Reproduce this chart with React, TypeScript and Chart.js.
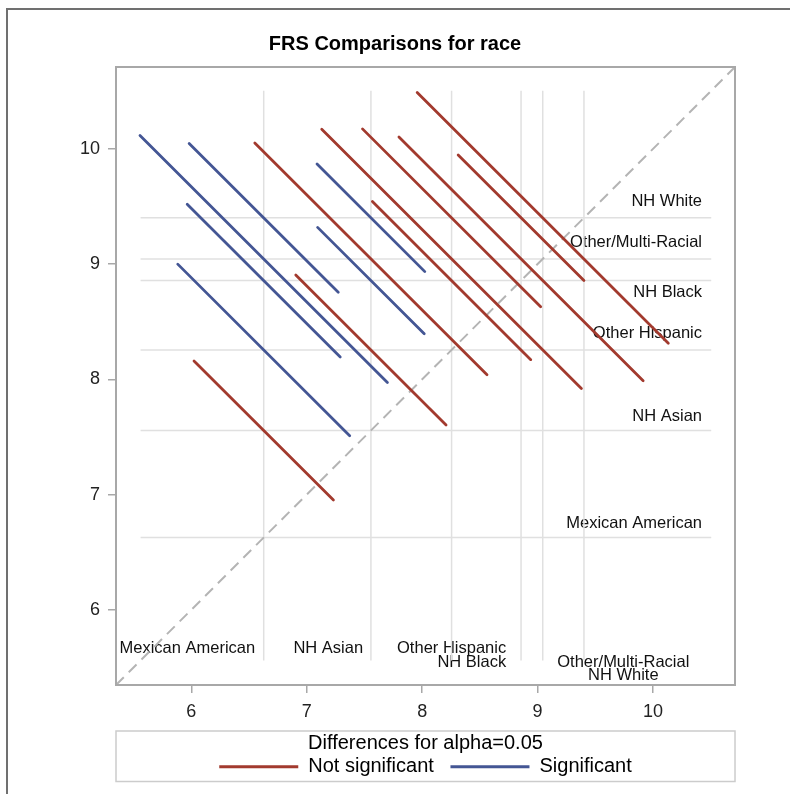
import React, { useEffect, useRef } from "react";
import { Chart, registerables } from "chart.js";

Chart.register(...registerables);

// ---------- data ----------
const chartTitle = "FRS Comparisons for race";
const legendTitle = "Differences for alpha=0.05";
const legendNames = ["Not significant", "Significant"];

const groups = ["Mexican American", "NH Asian", "Other Hispanic", "NH Black", "Other/Multi-Racial", "NH White"];
const groupMeans = [6.627, 7.556, 8.255, 8.857, 9.045, 9.402];

// pairwise difference segments
const segX1 = [5.555, 5.981, 5.964, 5.882, 7.089, 7.094, 6.023, 6.550, 6.905, 7.130, 7.483, 7.799, 7.569, 7.957, 8.312];
const segY1 = [10.117, 10.048, 9.520, 9.000, 9.869, 9.319, 8.160, 10.051, 8.906, 10.170, 10.174, 10.103, 9.543, 10.490, 9.947];
const segX2 = [7.699, 7.273, 7.290, 7.372, 8.023, 8.018, 7.231, 8.562, 8.207, 9.380, 9.027, 9.915, 8.941, 10.133, 9.402];
const segY2 = [7.973, 8.756, 8.194, 7.510, 8.935, 8.395, 6.952, 8.039, 7.604, 7.920, 8.630, 7.987, 8.171, 8.314, 8.857];
const segSignificant = [true, true, true, true, true, true, false, false, false, false, false, false, false, false, false];

const xTickValues = [6, 7, 8, 9, 10];
const yTickValues = [6, 7, 8, 9, 10];

const axisMin = 5.347;
const axisMax = 10.711;
const refMin = 5.56;
const refMax = 10.505;

// label placement (data units)
const bottomLabelX = [6.553, 7.488, 8.728, 8.728, 9.743, 9.743];
const bottomLabelY = [5.66, 5.66, 5.66, 5.547, 5.547, 5.431];
const bottomLabelAlign = ["right", "right", "right", "right", "center", "center"];
const rightLabelX = 10.425;
const rightLabelY = [6.753, 7.679, 8.397, 8.75, 9.184, 9.54];

// ---------- styles ----------
const FONT = "'Liberation Sans', Arial, Helvetica, sans-serif";
const RED = "#A23A2E";
const BLUE = "#445694";
const FRAME = "#a8a8a8";
const REF = "#e0e0e0";

const decorPlugin = {
  id: "decor",
  beforeDatasetsDraw(chart: any) {
    const ctx = chart.ctx;
    const xs = chart.scales.x;
    const ys = chart.scales.y;
    ctx.save();
    ctx.fillStyle = "#111";
    ctx.font = `16.5px ${FONT}`;
    ctx.textBaseline = "middle";
    groups.forEach((g, i) => {
      ctx.textAlign = bottomLabelAlign[i];
      ctx.fillText(g, xs.getPixelForValue(bottomLabelX[i]), ys.getPixelForValue(bottomLabelY[i]));
    });
    ctx.textAlign = "right";
    groups.forEach((g, i) => {
      ctx.fillText(g, xs.getPixelForValue(rightLabelX), ys.getPixelForValue(rightLabelY[i]));
    });
    ctx.restore();
  },
  afterDraw(chart: any) {
    const ctx = chart.ctx;
    const a = chart.chartArea;
    ctx.save();
    // plot frame
    ctx.strokeStyle = FRAME;
    ctx.lineWidth = 2;
    ctx.strokeRect(a.left, a.top, a.right - a.left, a.bottom - a.top);
    // legend frame
    const lg = chart.legend;
    ctx.strokeStyle = "#cccccc";
    ctx.lineWidth = 1.5;
    ctx.strokeRect(a.left, lg.top - 2.3, a.right - a.left, 50.5);
    // outer image frame
    ctx.strokeStyle = "#707070";
    ctx.lineWidth = 2;
    ctx.beginPath();
    ctx.moveTo(7, chart.height);
    ctx.lineTo(7, 9);
    ctx.lineTo(chart.width, 9);
    ctx.stroke();
    ctx.restore();
  },
};

export default function App() {
  const ref = useRef<HTMLCanvasElement | null>(null);

  useEffect(() => {
    const canvas = ref.current;
    if (!canvas) return;
    const datasets: any[] = [];
    for (let i = 0; i < segX1.length; i++) {
      datasets.push({
        data: [
          { x: segX1[i], y: segY1[i] },
          { x: segX2[i], y: segY2[i] },
        ],
        borderColor: segSignificant[i] ? BLUE : RED,
        borderWidth: 2.8,
        borderCapStyle: "round",
        pointRadius: 0,
        showLine: true,
        order: 0,
      });
    }
    datasets.push({
      data: [
        { x: axisMin, y: axisMin },
        { x: axisMax, y: axisMax },
      ],
      borderColor: "#b4b4b4",
      borderWidth: 2,
      borderDash: [11, 7],
      pointRadius: 0,
      showLine: true,
      order: 1,
    });
    groupMeans.forEach((m) => {
      datasets.push({
        data: [
          { x: m, y: refMin },
          { x: m, y: refMax },
        ],
        borderColor: REF,
        borderWidth: 1.5,
        pointRadius: 0,
        showLine: true,
        order: 2,
      });
      datasets.push({
        data: [
          { x: refMin, y: m },
          { x: refMax, y: m },
        ],
        borderColor: REF,
        borderWidth: 1.5,
        pointRadius: 0,
        showLine: true,
        order: 2,
      });
    });

    const tickFont = { family: FONT, size: 18 };
    const chart = new Chart(canvas, {
      type: "scatter",
      data: { datasets },
      options: {
        responsive: false,
        animation: false,
        events: [],
        layout: { padding: { left: 0, right: 0, top: 0, bottom: 7.3 } },
        plugins: {
          title: {
            display: true,
            text: chartTitle,
            color: "#000",
            font: { family: FONT, size: 20, weight: "bold", lineHeight: 1.2 },
            padding: { top: 32, bottom: 11 },
          },
          legend: {
            display: true,
            position: "bottom",
            fullSize: false,
            onClick: () => {},
            title: {
              display: true,
              text: legendTitle,
              color: "#000",
              font: { family: FONT, size: 20, lineHeight: 0.34 },
              padding: 0,
            },
            labels: {
              boxWidth: 79,
              boxHeight: 3,
              padding: 16.6,
              color: "#000",
              font: { family: FONT, size: 20 },
              generateLabels: () => [
                { text: legendNames[0], fillStyle: RED, strokeStyle: RED, lineWidth: 0, hidden: false, datasetIndex: 6 },
                { text: legendNames[1], fillStyle: BLUE, strokeStyle: BLUE, lineWidth: 0, hidden: false, datasetIndex: 0 },
              ],
            },
          },
          tooltip: { enabled: false },
        },
        scales: {
          x: {
            type: "linear",
            min: axisMin,
            max: axisMax,
            afterBuildTicks: (s: any) => {
              s.ticks = xTickValues.map((v) => ({ value: v }));
            },
            afterFit: (s: any) => {
              s.height = 48.3;
            },
            ticks: { font: tickFont, color: "#222", padding: 8, maxRotation: 0 },
            grid: { drawOnChartArea: false, drawTicks: true, tickLength: 8, color: FRAME, lineWidth: 1.5 },
            border: { display: false },
          },
          y: {
            type: "linear",
            min: axisMin,
            max: axisMax,
            afterBuildTicks: (s: any) => {
              s.ticks = yTickValues.map((v) => ({ value: v }));
            },
            afterFit: (s: any) => {
              s.width = 116;
            },
            ticks: { font: tickFont, color: "#222", padding: 8 },
            grid: { drawOnChartArea: false, drawTicks: true, tickLength: 8, color: FRAME, lineWidth: 1.5 },
            border: { display: false },
          },
          yRight: {
            type: "linear",
            position: "right",
            min: axisMin,
            max: axisMax,
            ticks: { display: false },
            grid: { display: false, drawTicks: false },
            border: { display: false },
            afterFit: (s: any) => {
              s.width = 55;
            },
          },
        },
      } as any,
      plugins: [decorPlugin as any],
    });
    return () => chart.destroy();
  }, []);

  return (
    <div style={{ position: "fixed", left: 0, top: 0, width: 790, height: 794, background: "#fff" }}>
      <canvas ref={ref} width={790} height={794} style={{ display: "block" }} />
    </div>
  );
}
